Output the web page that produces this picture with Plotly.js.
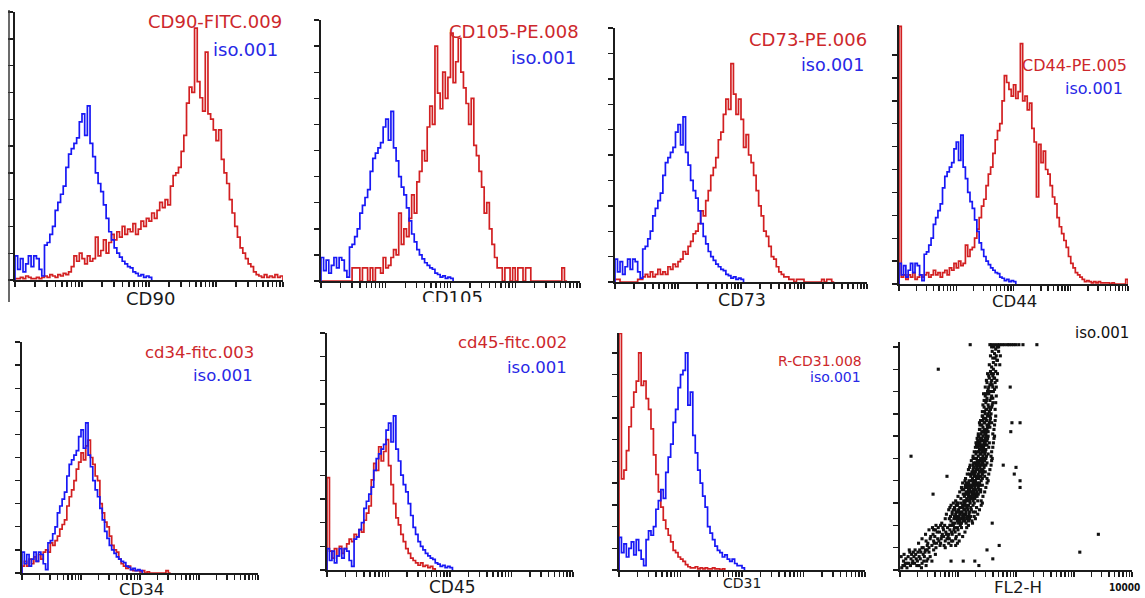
<!DOCTYPE html>
<html><head><meta charset="utf-8">
<script src="https://cdn.plot.ly/plotly-3.0.1.min.js"></script>
<style>html,body{margin:0;padding:0;background:#fff}#chart{width:1145px;height:598px}</style>
</head><body><div id="chart"></div>
<script>
// ---------------- DATA ----------------
// histogram bins: 25 bins per decade on a 4-decade log scale (bin i starts at 10^(i/25))
const BINS_PER_DECADE = 25;
const axisTitles = ['CD90', 'CD105', 'CD73', 'CD44', 'CD34', 'CD45', 'CD31', 'FL2-H'];
const sampleLabels = ['CD90-FITC.009', 'CD105-PE.008', 'CD73-PE.006', 'CD44-PE.005',
                      'cd34-fitc.003', 'cd45-fitc.002', 'R-CD31.008', null];
const isoLabel = 'iso.001';
const axisEndLabel = '10000';
const yTickValues = [0, 1, 2, 3, 4, 5, 6, 7, 8, 9, 10];

// isotype control (iso.001), panels 1-6
const isoCounts = [0.9,0.4,0.8,0.3,0.6,0.9,0.5,0.9,0.8,0.4,
  0.15,1.3,1.4,1.7,2.0,2.6,2.9,3.2,3.5,4.2,
  4.7,4.9,5.1,5.3,5.9,6.2,5.4,6.5,5.1,4.6,
  4.0,3.6,3.3,2.8,2.3,1.8,1.5,1.2,1.0,0.85,
  0.7,0.6,0.5,0.45,0.3,0.25,0.15,0.2,0.1,0.15,0.1];
const cd90Counts = [0.05,0.05,0.1,0.05,0.15,0.1,0.05,0.05,0.1,0.05,
  0.1,0.15,0.1,0.2,0.15,0.1,0.2,0.15,0.25,0.2,
  0.3,0.5,0.9,0.7,1.0,0.8,0.6,0.9,0.7,0.8,
  1.6,0.9,1.1,1.5,1.0,1.4,1.7,1.5,1.8,1.6,
  2.0,1.7,1.9,1.8,2.1,1.7,1.9,2.2,2.0,2.3,
  2.2,2.5,2.3,2.6,2.9,2.7,3.0,2.8,3.5,3.9,
  4.0,4.2,4.8,5.4,6.6,7.2,7.0,9.4,7.4,6.8,
  6.3,8.5,6.2,6.0,5.6,5.2,5.6,4.5,4.0,3.6,
  3.0,2.5,2.0,1.6,1.2,1.0,0.8,0.6,0.5,0.3,
  0.2,0.15,0.1,0.2,0.1,0.15,0.1,0.2,0.1,0.15];
const cd105Counts = [0,0,0,0,0,0,0,0,0,0,
  0,0,0.5,0.5,0.5,0,0.5,0.5,0,0.5,
  0,0.5,0.5,0.3,0.9,0.5,0.6,0.9,1.2,1.0,
  2.6,1.4,2.0,1.7,2.4,3.3,2.6,3.8,4.2,5.0,
  4.6,5.9,6.7,6.0,9.0,7.2,6.6,8.0,7.0,7.8,
  9.5,7.6,8.4,9.3,8.0,7.4,6.8,6.0,7.0,5.2,
  4.8,4.2,3.6,2.6,3.0,2.0,1.4,0.9,0.5,0.5,
  0,0.5,0.5,0,0.5,0,0.5,0.5,0,0.5,
  0.5,0,0,0,0,0,0,0,0,0,
  0,0,0,0.5,0];
const cd73Counts = [0.1,0.1,0,0,0,0,0,0,0,0.1,
  0.1,0.2,0.3,0.2,0.4,0.2,0.3,0.5,0.3,0.4,
  0.3,0.6,0.5,0.7,0.6,0.8,0.9,1.2,1.1,1.4,
  1.6,1.9,2.0,2.3,2.8,2.6,3.2,3.6,4.2,4.5,
  4.9,5.6,5.9,6.6,7.2,6.8,8.6,7.4,6.6,7.2,
  6.4,5.3,5.8,5.0,4.7,4.2,3.6,3.0,2.6,2.0,
  1.8,1.4,1.0,0.9,0.6,0.4,0.3,0.2,0.2,0.1,
  0.1,0,0.1,0.1,0.1,0,0,0,0,0,
  0,0,0.1,0,0.1,0.1,0];
const cd44Counts = [11.25,0.3,0.4,0.2,0.4,0.3,0.5,0.2,0.3,0.4,
  0.3,0.4,0.5,0.3,0.4,0.6,0.4,0.5,0.3,0.5,
  0.6,0.4,0.7,0.6,0.9,0.7,1.0,0.8,0.9,1.7,
  1.2,1.5,1.6,2.0,2.4,2.9,3.4,3.7,4.3,4.8,
  5.1,5.7,6.3,6.7,7.0,8.0,9.1,8.8,8.5,8.2,
  8.7,8.1,8.4,10.5,8.0,8.2,7.6,7.9,6.8,6.2,
  3.8,6.1,5.3,5.8,5.0,4.8,4.3,3.8,3.5,2.9,
  2.5,2.2,1.9,1.6,1.2,0.9,0.7,0.5,0.4,0.3,
  0.2,0.1,0.15,0.1,0.05,0.1,0.05,0.1,0.05,0.05,
  0.05,0.05,0,0.05,0,0,0,0,0,0.2];
const cd34Counts = [0.3,0.5,0.3,0.6,0.4,0.7,0.5,0.8,0.6,0.9,
  1.0,0.9,1.3,1.2,1.4,1.6,1.9,2.1,2.3,2.9,
  3.3,3.6,4.0,4.5,4.8,5.2,4.9,5.5,5.75,5.0,
  4.7,4.2,4.0,3.0,2.6,2.2,2.0,1.6,1.2,1.0,
  0.9,0.6,0.4,0.3,0.2,0.3,0.15,0.1,0.1,0.1,
  0.05,0.1,0,0.05,0,0,0,0,0,0,
  0,0.1,0];
const cd45Counts = [3.9,0.8,0.5,0.9,0.6,1.0,0.7,0.9,1.1,1.3,
  1.2,1.5,1.4,1.7,1.6,2.1,2.4,2.7,3.8,4.5,
  4.2,5.2,4.6,5.0,5.5,4.4,3.6,2.8,2.2,1.9,
  1.5,1.2,0.9,0.7,0.5,0.4,0.3,0.2,0.3,0.15,
  0.2,0.1,0.15,0.05];
const cd31Counts = [10.9,4.2,4.6,5.5,6.6,7.5,8.2,8.7,10.0,8.5,
  8.7,7.9,7.4,6.5,5.3,4.4,3.6,2.9,2.3,1.9,
  1.6,1.3,0.9,0.8,0.6,0.5,0.4,0.25,0.15,0.1,
  0.1,0.15,0.05,0.1,0.05,0.1,0.05,0.05,0.1,0.05,
  0.05,0,0.05];
const cd31IsoCounts = [1.5,0.8,1.2,0.6,1.0,1.3,0.7,1.4,0.9,0.5,
  0.2,1.4,1.8,1.6,2.0,2.8,3.2,3.7,3.3,4.5,
  5.2,5.8,6.8,7.4,8.4,9.0,9.2,10.0,7.6,8.2,
  6.2,5.4,4.6,4.0,3.4,2.9,2.0,1.7,1.4,1.1,
  0.9,0.8,0.6,0.7,0.5,0.4,0.5,0.3,0.2,0.2,0.1];

// dot plot (iso.001): [FL2-H in decades x100, FSC-like value x10]
const dotPairs = [
  [3,1],[8,2],[12,1],[15,3],[6,4],[18,2],[22,4],[10,5],[25,3],[14,6],[28,5],[20,7],[33,6],[17,8],[26,9],[36,8],[30,4],[40,7],[24,6],[44,9],[12,3],[31,8],[38,10],[47,9],[21,3],[35,5],[42,6],[9,3],[27,7],[50,8],[19,5],[34,9],[46,4],[5,2],[29,2],
  [2,6],[38,3],[45,2],[52,6],[58,9],[16,9],[33,2],[41,4],[55,4],[48,5],[7,7],[23,8],[61,7],[37,1],[43,8],
  [40,10],[55,11],[62,10],[48,12],[70,12],[58,13],[78,13],[65,14],[52,14],[85,14],[72,15],[60,15],[90,16],[80,16],[68,17],[95,17],[86,18],[75,18],[99,19],[82,19],[92,20],[70,20],[104,20],[88,11],[45,13],[76,11],[63,12],[57,16],[84,12],[97,15],[66,19],[79,17],[91,13],[50,10],[73,16],[61,18],[87,20],[100,18],[69,11],[94,19],[81,14],[59,12],[74,19],[89,17],[102,16],[67,13],[83,15],[77,20],[53,15],[96,14],
  [32,12],[38,14],[44,16],[50,18],[56,19],[62,20],[96,11],[102,13],[108,15],[112,17],[115,19],[118,20],[78,10],[84,16],[71,14],[93,18],[106,19],[64,17],[89,13],[99,12],[47,11],[75,15],[86,20],[58,18],
  [95,21],[105,21],[88,22],[112,22],[100,23],[93,23],[108,24],[118,24],[98,24],[103,25],[113,25],[90,25],[120,26],[107,26],[97,26],[110,27],[101,27],[123,27],[115,28],[104,28],[94,28],[118,29],[108,29],[126,29],[112,30],[100,30],[121,30],[106,21],[116,23],[91,21],[99,22],[109,22],[85,23],[111,23],[102,24],[96,25],[114,26],[104,26],[117,27],[92,27],[109,28],[122,28],[99,29],[113,29],[105,30],[128,30],[87,24],[119,25],[124,22],[101,21],[107,23],[115,24],[95,27],[111,25],[103,28],[130,26],[110,24],[97,29],[120,23],[106,28],
  [72,21],[78,23],[80,25],[84,27],[88,29],[92,30],[125,21],[130,23],[134,25],[137,27],[140,29],[142,30],[114,21],[103,22],[96,23],[122,24],[108,25],[126,26],[100,26],[116,28],[90,26],[110,30],[132,28],[86,28],[118,22],[104,23],[112,27],[98,30],[128,24],[94,24],
  [110,31],[120,31],[125,32],[115,32],[105,32],[130,33],[118,33],[122,33],[112,34],[128,34],[119,34],[133,35],[124,35],[114,35],[127,36],[120,36],[136,36],[116,37],[129,37],[124,37],[132,38],[121,38],[138,38],[126,39],[118,39],[134,39],[130,40],[123,40],[140,40],[111,33],[126,31],[117,35],[131,36],[109,34],[122,37],[135,37],[113,38],[128,38],[119,40],[137,39],[125,34],[116,31],[129,32],[107,36],[121,35],[139,35],[123,33],[131,34],[114,39],[127,40],[118,36],[133,33],[124,38],[130,39],[112,37],[126,36],[136,38],[120,32],[128,35],[117,38],
  [96,31],[100,33],[103,35],[106,37],[108,39],[112,40],[140,31],[143,33],[146,35],[148,37],[150,39],[152,40],[127,33],[115,34],[134,31],[120,38],[139,36],[124,32],[131,39],[110,36],[142,38],[119,37],[126,35],[135,34],[113,31],[129,40],
  [125,41],[132,41],[138,42],[128,42],[120,43],[135,43],[142,43],[130,44],[137,44],[126,45],[140,45],[133,46],[145,46],[128,46],[139,47],[134,47],[143,48],[130,48],[137,49],[146,49],[132,50],[141,50],[124,44],[136,41],[129,43],[144,44],[131,47],[138,46],[127,48],[141,48],[135,49],[148,47],[122,42],[133,45],[140,42],[136,48],[129,50],[143,45],[134,42],[139,50],[126,47],[147,44],[131,45],[137,47],[142,49],[128,44],[145,50],[133,49],[120,46],[150,48],
  [113,41],[116,43],[118,45],[121,47],[123,49],[126,50],[150,41],[153,43],[155,45],[157,47],[158,49],[159,50],[131,42],[139,44],[127,46],[144,47],[135,45],[142,41],[133,48],[148,50],[125,43],[146,42],
  [135,51],[143,51],[138,52],[146,52],[132,53],[141,53],[148,54],[137,54],[144,55],[134,55],[150,56],[140,56],[145,57],[136,57],[149,58],[142,58],[138,59],[147,59],[152,60],[143,60],[131,52],[147,53],[139,55],[153,55],[133,57],[146,56],[141,59],[150,58],[135,60],[144,54],[140,52],[149,51],[137,56],[145,58],[142,55],[154,57],[136,53],[148,60],[139,58],[132,56],
  [126,51],[128,53],[130,55],[131,57],[133,59],[136,60],[157,51],[158,53],[160,55],[161,57],[162,59],[163,60],[140,54],[145,53],[138,57],[151,59],[143,56],[134,58],[152,52],[147,57],
  [140,61],[148,61],[144,62],[152,62],[138,63],[147,63],[155,64],[143,64],[150,65],[141,65],[146,66],[154,66],[139,67],[149,67],[144,68],[156,68],[151,69],[142,69],[147,70],[157,70],[145,63],[153,65],[149,62],[137,66],[151,64],[148,68],[143,67],[155,69],[146,61],[152,70],
  [135,61],[137,63],[138,65],[140,67],[142,69],[160,61],[162,63],[163,65],[164,67],[165,69],[150,63],[145,66],[155,67],[141,62],[158,66],
  [146,71],[154,71],[150,72],[158,73],[145,73],[152,74],[160,75],[148,75],[155,76],[150,77],[158,78],[147,78],[153,79],[161,80],[151,80],[156,72],[149,76],[157,77],[144,79],[159,74],
  [142,71],[143,74],[145,76],[147,79],[164,72],[165,75],[166,78],[153,73],[150,79],[160,77],[148,72],[156,80],
  [152,81],[160,82],[155,83],[164,84],[150,84],[158,85],[162,86],[153,87],[161,88],[156,89],[165,89],[159,83],[154,86],[163,81],[157,88],
  [147,82],[149,85],[151,88],[166,82],[167,85],[168,88],[157,84],[160,87],[153,82],[163,86],
  [158,91],[165,92],[161,93],[168,94],[160,95],[166,96],[163,97],[170,98],[165,99],[162,100],[168,100],[164,95],
  [154,92],[156,96],[172,92],[173,96],[159,98],[167,94],[161,90],[170,100],[158,100],
  [121,101],[155,101],[158,101],[163,101],[168,101],[172,101],[176,101],[180,101],[185,101],[188,101],[192,101],[196,101],[200,101],[205,101],[212,101],[236,101],
  [66,90],[19,51],[81,42],[57,34],[342,16],[310,8],[190,82],[193,66],[207,66],[191,62],[178,47],[200,46],[197,43],[207,40],[207,37],[159,21],[171,11],[150,9],[160,5],[129,4],[136,2],[109,4],[88,4]
];

// ---------------- LAYOUT / DRAWING ----------------
const W = 1145, H = 598;
const RED = 'rgb(210,32,34)', BLUE = 'rgb(24,24,245)';
const TXT_RED = 'rgb(205,40,44)', TXT_BLUE = 'rgb(40,40,230)';
const FONT = 'DejaVu Sans, Verdana, sans-serif';

// pixel boxes of each plot area: [left, right, top, bottom], y-range top
const panels = [
  {box:[15,283,12,280], yTop:10,    red:cd90Counts,  blue:isoCounts},
  {box:[321,580,20,281], yTop:10,   red:cd105Counts, blue:isoCounts},
  {box:[615,867,28,282], yTop:10,   red:cd73Counts,  blue:isoCounts},
  {box:[899,1128,25,284], yTop:11.31, red:cd44Counts, blue:isoCounts},
  {box:[22,258,342,573], yTop:10,   red:cd34Counts,  blue:isoCounts},
  {box:[327,573,333,570], yTop:10,  red:cd45Counts,  blue:isoCounts},
  {box:[619,865,333,570], yTop:10.92, red:cd31Counts, blue:cd31IsoCounts},
  {box:[900,1132,342,570], yTop:10.22, dots:true}
];

const axisStyle = {
  showline:true, linecolor:'#1c1c1c', linewidth:1.6, mirror:false,
  ticks:'outside', ticklen:5, tickwidth:1.4, tickcolor:'#1c1c1c',
  showticklabels:false, showgrid:false, zeroline:false, fixedrange:true,
  layer:'below traces'
};

const layout = {
  width:W, height:H, margin:{l:0,r:0,t:0,b:0},
  paper_bgcolor:'#fff', plot_bgcolor:'rgba(0,0,0,0)',
  showlegend:false, font:{family:FONT, color:'#222'},
  annotations:[], shapes:[]
};
const traces = [];

function stepTrace(counts, color, xa, ya) {
  const xs = [1], ys = [0];
  counts.forEach((v, i) => { xs.push(Math.pow(10, i / BINS_PER_DECADE)); ys.push(v); });
  xs.push(Math.pow(10, counts.length / BINS_PER_DECADE)); ys.push(0);
  return {type:'scatter', mode:'lines', x:xs, y:ys, xaxis:xa, yaxis:ya,
          line:{shape:'hv', color:color, width:1.7}, hoverinfo:'skip'};
}

panels.forEach((p, k) => {
  const n = k + 1;
  const xa = 'x' + (n === 1 ? '' : n), ya = 'y' + (n === 1 ? '' : n);
  const [l, r, t, b] = p.box;
  layout['xaxis' + (n === 1 ? '' : n)] = Object.assign({}, axisStyle, {
    type:'log', range:[0, 4], dtick:'D1', domain:[l / W, r / W], anchor:ya
  });
  layout['yaxis' + (n === 1 ? '' : n)] = Object.assign({}, axisStyle, {
    range:[0, p.yTop], tickmode:'array', tickvals:yTickValues,
    domain:[1 - b / H, 1 - t / H], anchor:xa
  });
  if (p.dots) {
    traces.push({type:'scatter', mode:'markers', xaxis:xa, yaxis:ya,
      x:dotPairs.map(d => Math.pow(10, d[0] / 100)), y:dotPairs.map(d => d[1] / 10),
      marker:{color:'#111', size:3.1, symbol:'square'}, cliponaxis:false, hoverinfo:'skip'});
  } else {
    traces.push(stepTrace(p.red, RED, xa, ya));
    traces.push(stepTrace(p.blue, BLUE, xa, ya));
  }
});

// text placement: [cx/right, cy, size]
const titlePos = [[150,298,18],null,[742,300,17.5],[1014,301,16.5],
                  [141,589,16.5],[452,587,17],[742,583,14],[1018,587,16.7]];
const samplePos = [[284,22,18],[581,32,18],[869,40,18],[1129,65,16],
                   [256,352,16.5],[569,343,16.5],[864,361,14],null];
const isoPos = [[280,50,18],[578,57,18],[866,65,17.5],[1125,88,16],
                [255,375,16.5],[569,367,16.5],[863,377,14],[1131,333,15]];

function ann(text, x, y, size, color, xanchor, extra) {
  return Object.assign({text:text, xref:'paper', yref:'paper', x:x / W, y:1 - y / H,
    xanchor:xanchor, yanchor:'middle', showarrow:false,
    font:{family:FONT, size:size, color:color}}, extra || {});
}
axisTitles.forEach((t, i) => {
  if (!titlePos[i]) return;
  const [x, y, s] = titlePos[i];
  layout.annotations.push(ann(t, x, y, s, '#1a1a1a', 'center'));
});
sampleLabels.forEach((t, i) => {
  if (!t) return;
  const [x, y, s] = samplePos[i];
  layout.annotations.push(ann(t, x, y, s, TXT_RED, 'right'));
});
isoPos.forEach((p, i) => {
  layout.annotations.push(ann(isoLabel, p[0], p[1], p[2], i === 7 ? '#111' : TXT_BLUE, 'right'));
});
// decade label at the end of the dot-plot axis
layout.annotations.push(ann('<b>' + axisEndLabel + '</b>', 1142, 587, 10, '#111', 'right',
  {font:{family:'DejaVu Sans Condensed, DejaVu Sans, sans-serif', size:10, color:'#111'}}));

// "CD105" title is cut off at its lower part in the original: draw it in a clipped strip
layout.xaxis9 = {domain:[400 / W, 505 / W], range:[0, 1], visible:false, fixedrange:true, anchor:'y9'};
layout.yaxis9 = {domain:[1 - 302 / H, 1 - 286 / H], range:[0, 1], visible:false, fixedrange:true, anchor:'x9'};
traces.push({type:'scatter', mode:'text', xaxis:'x9', yaxis:'y9', x:[0.5], y:[(302 - 299.5) / 16],
  text:[axisTitles[1]], textposition:'middle center', cliponaxis:true,
  textfont:{family:FONT, size:18, color:'#1a1a1a'}, hoverinfo:'skip'});

// frame line left of the first panel
layout.shapes.push({type:'line', xref:'paper', yref:'paper', x0:9 / W, x1:9 / W,
  y0:1 - 302 / H, y1:1 - 10 / H, line:{color:'#3a3a3a', width:1.5}});

Plotly.newPlot('chart', traces, layout, {staticPlot:true, displayModeBar:false});
</script>
</body></html>
